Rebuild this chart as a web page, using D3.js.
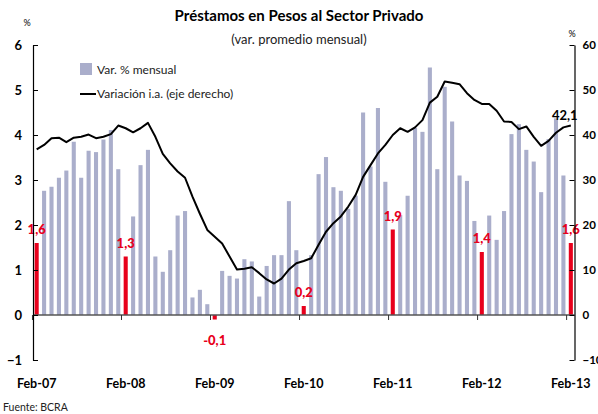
<!DOCTYPE html>
<html>
<head>
<meta charset="utf-8">
<script src="https://cdn.jsdelivr.net/npm/d3@7"></script>
<style>
  body { margin: 0; background: #fff; }
  svg { font-family: Lato, "Open Sans", sans-serif; }
</style>
</head>
<body>
<svg id="chart" width="598" height="414"></svg>
<script>
// monthly categories Feb-07 .. Feb-13
const monthNames = ["Jan","Feb","Mar","Apr","May","Jun","Jul","Aug","Sep","Oct","Nov","Dec"];
const months = [];
for (let i = 0; i < 73; i++) {
  const m = (1 + i) % 12;
  const y = 7 + Math.floor((1 + i) / 12);
  months.push(monthNames[m] + "-" + String(y).padStart(2, "0"));
}

// Var. % mensual (left axis)
const varMensual = [
  1.6, 2.76, 2.85, 3.05, 3.21, 3.85, 3.05, 3.65, 3.62, 3.9, 4.11, 3.24,
  1.3, 2.19, 3.33, 3.67, 1.3, 0.96, 1.44, 2.21, 2.31, 0.39, 0.56, 0.24,
  -0.1, 0.98, 0.87, 0.81, 1.24, 1.19, 0.41, 1.09, 1.33, 1.33, 2.53, 1.44,
  0.2, 1.33, 3.13, 3.51, 2.84, 2.76, 2.36, 2.65, 4.5, 3.3, 4.6, 2.96,
  1.9, 2.22, 2.65, 4.16, 4.07, 5.5, 3.24, 5.07, 4.3, 3.1, 2.98, 2.09,
  1.4, 2.21, 1.67, 2.31, 4.02, 4.24, 3.67, 3.41, 2.73, 3.91, 4.37, 3.1,
  1.6
];

// Variación i.a. (right axis)
const varIA = [
  36.8, 37.8, 39.3, 39.4, 38.4, 39.4, 39.6, 40.1, 39.3, 39.6, 40.2, 42.1,
  41.5, 40.6, 41.5, 42.7, 39.6, 35.8, 33.7, 31.9, 30.5, 26.3, 22.5, 18.9,
  17.4, 15.9, 13.0, 10.1, 10.3, 10.6, 9.3, 7.9, 7.0, 8.1, 10.1, 11.5,
  12.0, 12.6, 15.6, 18.5, 20.4, 21.9, 24.1, 26.7, 30.7, 33.3, 35.9, 37.8,
  40.0, 41.5, 40.7, 41.7, 43.3, 47.2, 48.5, 51.9, 51.6, 51.3, 49.3, 47.8,
  46.9, 46.9, 45.4, 43.0, 42.9, 41.3, 41.9, 39.6, 37.6, 38.7, 40.5, 41.7,
  42.1
];

const leftTicks = [-1, 0, 1, 2, 3, 4, 5, 6];
const rightTicks = [-10, 0, 10, 20, 30, 40, 50, 60];
const xLabels = ["Feb-07", "Feb-08", "Feb-09", "Feb-10", "Feb-11", "Feb-12", "Feb-13"];

const barColor = "#aaaecb";
const red = "#e8001c";

const svg = d3.select("#chart");

const x = d3.scaleBand().domain(months).range([33, 574.5]).paddingInner(0.45).paddingOuter(0.22);
const yL = d3.scaleLinear().domain([-1, 6]).range([360, 45]);
const yR = d3.scaleLinear().domain([-10, 60]).range([360, 45]);

// title
svg.append("text").attr("x", 299).attr("y", 21).attr("text-anchor", "middle")
  .style("font-size", "15px").style("font-weight", "bold").text("Préstamos en Pesos al Sector Privado");
svg.append("text").attr("x", 299).attr("y", 44).attr("text-anchor", "middle")
  .style("font-size", "13px").attr("fill", "#222").text("(var. promedio mensual)");

// % markers
svg.append("text").attr("x", 27).attr("y", 26).attr("text-anchor", "middle").style("font-size", "9px").text("%");
svg.append("text").attr("x", 572).attr("y", 37).attr("text-anchor", "middle").style("font-size", "9px").text("%");

// bars
const isFeb = d => d.startsWith("Feb");
svg.append("g").selectAll("rect")
  .data(months)
  .join("rect")
  .attr("x", d => x(d))
  .attr("width", x.bandwidth())
  .attr("y", (d, i) => yL(Math.max(0, varMensual[i])))
  .attr("height", (d, i) => Math.abs(yL(varMensual[i]) - yL(0)))
  .attr("fill", d => isFeb(d) ? red : barColor);

// red value labels on Feb bars
svg.append("g").selectAll("text")
  .data(months.map((m, i) => ({ m, v: varMensual[i] })).filter(d => isFeb(d.m)))
  .join("text")
  .attr("x", d => x(d.m) + x.bandwidth() / 2)
  .attr("y", d => d.v >= 0 ? yL(d.v) - 9 : yL(d.v) + 25)
  .attr("text-anchor", "middle")
  .attr("fill", red)
  .style("font-size", "13px").style("font-weight", "900")
  .text(d => String(d.v).replace(".", ","));

// zero line with Feb ticks
svg.append("line").attr("x1", 33).attr("x2", 574.5).attr("y1", yL(0)).attr("y2", yL(0))
  .attr("stroke", "#555").attr("stroke-width", 1.5);
svg.append("g").selectAll("line")
  .data(months.filter(isFeb))
  .join("line")
  .attr("x1", d => x(d) - x.step() * x.paddingInner() / 2 - 0.5)
  .attr("x2", d => x(d) - x.step() * x.paddingInner() / 2 - 0.5)
  .attr("y1", yL(0)).attr("y2", yL(0) + 5)
  .attr("stroke", "#333").attr("stroke-width", 1);

// year-on-year line
const line = d3.line()
  .x((d, i) => x(months[i]) + x.bandwidth() / 2)
  .y(d => yR(d));
svg.append("path").datum(varIA).attr("d", line)
  .attr("fill", "none").attr("stroke", "#000").attr("stroke-width", 2).attr("stroke-linejoin", "round");
svg.append("text")
  .attr("x", x(months[72]) + x.bandwidth() / 2 - 6)
  .attr("y", yR(varIA[72]) - 6)
  .attr("text-anchor", "middle")
  .style("font-size", "13px").style("font-weight", "bold")
  .text(String(varIA[72]).replace(".", ","));

// axes
const axL = svg.append("g").attr("transform", "translate(33,0)")
  .call(d3.axisLeft(yL).tickValues(leftTicks).tickFormat(d3.format("d")).tickSizeInner(-5).tickSizeOuter(0).tickPadding(11));
const axR = svg.append("g").attr("transform", "translate(574.5,0)")
  .call(d3.axisRight(yR).tickValues(rightTicks).tickFormat(d3.format("d")).tickSizeInner(-5).tickSizeOuter(0).tickPadding(8));
[axL, axR].forEach(ax => {
  ax.select(".domain").attr("stroke", "#000").attr("stroke-width", 1.2);
  ax.selectAll(".tick line").attr("stroke", "#000");
  ax.selectAll(".tick text").style("font-size", "13px").style("font-weight", "bold")
    .style("font-family", "Lato, sans-serif").attr("fill", "#000");
});
axR.selectAll(".tick text").style("font-size", "11.5px");

// x labels
svg.append("g").selectAll("text")
  .data(xLabels)
  .join("text")
  .attr("x", d => x(d) + x.bandwidth() / 2)
  .attr("y", 388)
  .attr("text-anchor", "middle")
  .style("font-size", "12.5px").style("font-weight", "bold")
  .text(d => d);

// legend
const lg = svg.append("g");
lg.append("rect").attr("x", 80).attr("y", 63).attr("width", 12).attr("height", 12).attr("fill", barColor);
lg.append("text").attr("x", 97).attr("y", 74).style("font-size", "12px").attr("fill", "#222").text("Var. % mensual");
lg.append("line").attr("x1", 80).attr("x2", 96).attr("y1", 94).attr("y2", 94).attr("stroke", "#000").attr("stroke-width", 2);
lg.append("text").attr("x", 97).attr("y", 98).style("font-size", "12px").attr("fill", "#222").text("Variación i.a. (eje derecho)");

// source
svg.append("text").attr("x", 3).attr("y", 411).style("font-size", "10.5px").attr("fill", "#222").text("Fuente: BCRA");
</script>
</body>
</html>
